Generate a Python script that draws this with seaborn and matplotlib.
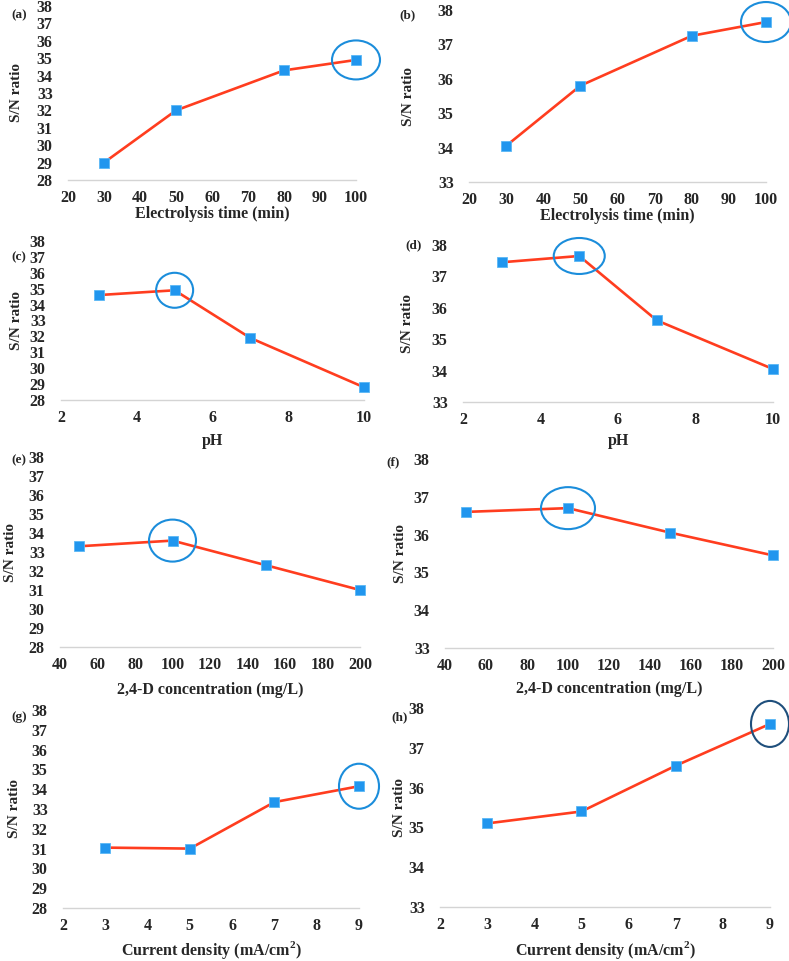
import numpy as np
import pandas as pd
import matplotlib
matplotlib.use("Agg")
import matplotlib.pyplot as plt
from matplotlib.patches import Ellipse
import seaborn as sns

# data
time_min = [30, 50, 80, 100]
sn_time_a = [29.0, 32.0, 34.3, 34.9]
sn_time_b = [34.05, 35.8, 37.25, 37.65]

ph = [3, 5, 7, 10]
sn_ph_c = [34.6, 34.9, 31.9, 28.8]
sn_ph_d = [37.45, 37.65, 35.6, 34.05]

conc = [50, 100, 150, 200]
sn_conc_e = [33.3, 33.6, 32.3, 31.0]
sn_conc_f = [36.6, 36.7, 36.05, 35.45]

cd = [3, 5, 7, 9]
sn_cd_g = [31.05, 31.0, 33.35, 34.15]
sn_cd_h = [35.1, 35.4, 36.55, 37.6]

sns.set_theme(style="white")
plt.rcParams['font.family'] = ['Liberation Serif', 'DejaVu Serif']
plt.rcParams['font.weight'] = 'bold'
plt.rcParams['mathtext.fontset'] = 'custom'
plt.rcParams['mathtext.bf'] = 'Liberation Serif:bold'
plt.rcParams['mathtext.rm'] = 'Liberation Serif:bold'

W, H = 789, 961
fig = plt.figure(figsize=(W / 100, H / 100), dpi=100)

LINE = "#ff3d1f"
MARK = "#2196ee"
RING = "#1b8ddb"
CD_LABEL = "Current density (mA/cm$^{\\mathbf{2}}$)"

# label, x, y, xlim, xstep, ylim, xlabel, best idx,
# box px [l, r, t, b], (panel tag x, y), (ylabel x, xlabel y), ellipse px, ring colour
panels = [
    ("(a)", time_min, sn_time_a, (20, 100), 10, (28, 38), "Electrolysis time (min)", 3,
     (68, 356, 6, 180), (19, 15), (17, 214), (48, 39), RING),
    ("(b)", time_min, sn_time_b, (20, 100), 10, (33, 38), "Electrolysis time (min)", 3,
     (469, 766, 10, 182), (408, 15), (408, 216), (50, 40), RING),
    ("(c)", ph, sn_ph_c, (2, 10), 2, (28, 38), "pH", 1,
     (61, 364, 241, 400), (19, 257), (17, 441), (37, 35), RING),
    ("(d)", ph, sn_ph_d, (2, 10), 2, (33, 38), "pH", 1,
     (463, 773, 245, 402), (414, 245), (408, 441), (51, 36), RING),
    ("(e)", conc, sn_conc_e, (40, 200), 20, (28, 38), "2,4-D concentration (mg/L)", 1,
     (60, 360, 457, 647), (19, 460), (10, 690), (47, 42), RING),
    ("(f)", conc, sn_conc_f, (40, 200), 20, (33, 38), "2,4-D concentration (mg/L)", 1,
     (445, 773, 459, 648), (393, 462), (400, 689), (54, 42), RING),
    ("(g)", cd, sn_cd_g, (2, 9), 1, (28, 38), CD_LABEL, 3,
     (63, 359, 710, 908), (19, 717), (15, 950), (40, 45), RING),
    ("(h)", cd, sn_cd_h, (2, 9), 1, (33, 38), CD_LABEL, 3,
     (440, 770, 708, 907), (400, 717), (400, 950), (38, 46), "#1f4f7c"),
]

for lab, xs, ys, xlim, xstep, ylim, xlab, best, box, tag, lpx, epx, ring in panels:
    l, r, t, b = box
    aw, ah = r - l, b - t
    ax = fig.add_axes([l / W, 1 - b / H, aw / W, ah / H])
    df = pd.DataFrame({"x": xs, "y": ys})
    sns.lineplot(data=df, x="x", y="y", ax=ax, color=LINE, linewidth=1.9,
                 marker="s", markersize=7.5, markerfacecolor=MARK,
                 markeredgecolor="#5ab8f5", markeredgewidth=0.6, clip_on=False)
    ax.set_xlim(*xlim)
    ax.set_ylim(*ylim)
    ax.set_xticks(np.arange(xlim[0], xlim[1] + 0.01, xstep))
    ax.set_yticks(np.arange(ylim[0], ylim[1] + 0.01, 1))
    for s in ["top", "right", "left"]:
        ax.spines[s].set_visible(False)
    ax.spines["bottom"].set_color("#d4d4d4")
    ax.spines["bottom"].set_linewidth(1.0)
    ax.tick_params(axis="x", length=4, width=1, color="#d4d4d4", labelsize=11.5, pad=3)
    ax.tick_params(axis="y", length=0, labelsize=11.5, pad=11)
    for tl in ax.get_xticklabels() + ax.get_yticklabels():
        tl.set_fontweight("bold")
    ax.set_xlabel(xlab, fontsize=11.5, fontweight="bold", va="center")
    ax.set_ylabel("S/N ratio", fontsize=11, fontweight="bold", va="center")
    ax.xaxis.set_label_coords(0.5, -(lpx[1] - b) / ah)
    ax.yaxis.set_label_coords((lpx[0] - l) / aw, 0.5)
    ax.patch.set_alpha(0)

    # ring around the best level
    ew = epx[0] / aw * (xlim[1] - xlim[0])
    eh = epx[1] / ah * (ylim[1] - ylim[0])
    ax.add_patch(Ellipse((xs[best], ys[best]), ew, eh, fill=False,
                         edgecolor=ring, linewidth=1.5, clip_on=False, zorder=5))

    fig.text(tag[0] / W, 1 - tag[1] / H, lab, fontsize=9.5, fontweight="bold",
             ha="center", va="center")

fig.savefig("out.png", dpi=100)
